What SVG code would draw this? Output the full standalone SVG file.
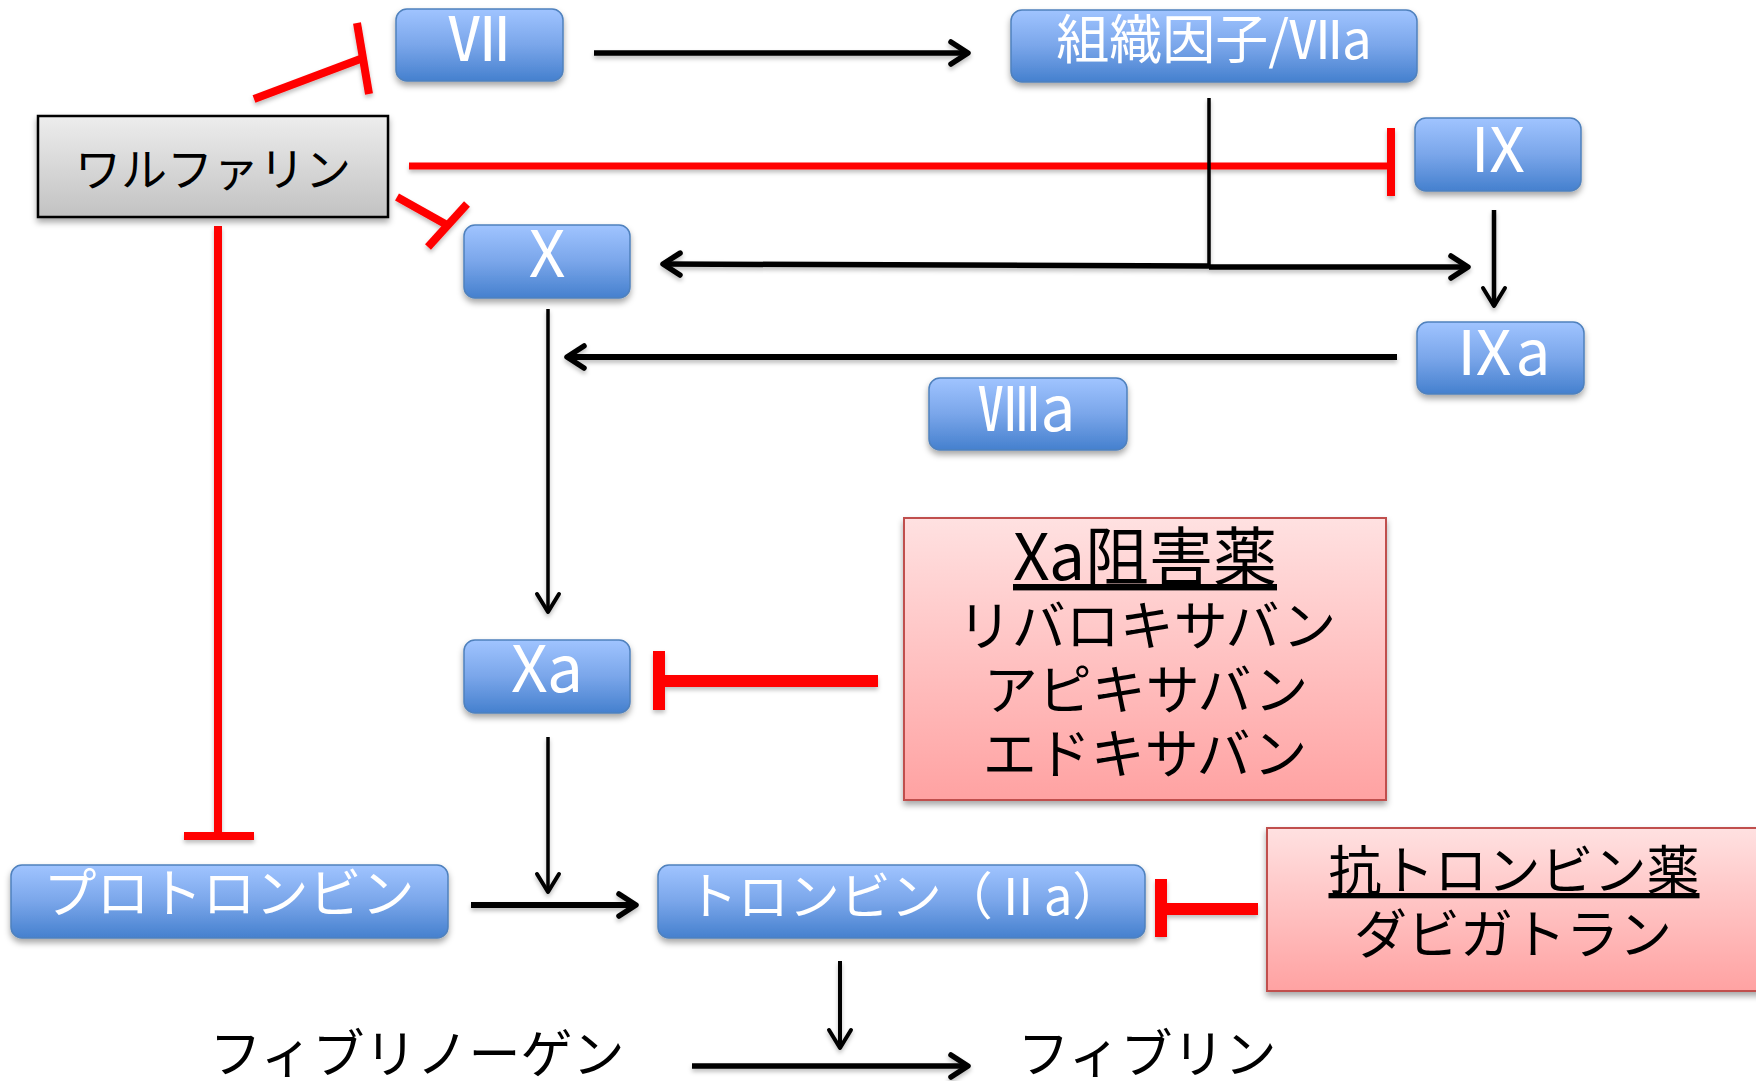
<svg xmlns="http://www.w3.org/2000/svg" width="1756" height="1081" viewBox="0 0 1756 1081">
<defs>
<linearGradient id="gBlue" x1="0" y1="0" x2="0" y2="1">
<stop offset="0" stop-color="#A0C4FF"/>
<stop offset="0.5" stop-color="#7AA6EA"/>
<stop offset="1" stop-color="#4580CE"/>
</linearGradient>
<linearGradient id="gGray" x1="0" y1="0" x2="0" y2="1">
<stop offset="0" stop-color="#EDEDED"/>
<stop offset="1" stop-color="#C2C2C2"/>
</linearGradient>
<linearGradient id="gPink" x1="0" y1="0" x2="0" y2="1">
<stop offset="0" stop-color="#FFE1E1"/>
<stop offset="1" stop-color="#FFA2A2"/>
</linearGradient>
<filter id="shadow" x="-10%" y="-20%" width="120%" height="150%">
<feDropShadow dx="0" dy="4" stdDeviation="3" flood-color="#000" flood-opacity="0.35"/>
</filter>
<filter id="lshadow" x="-5%" y="-5%" width="110%" height="110%">
<feDropShadow dx="0" dy="3" stdDeviation="2" flood-color="#000" flood-opacity="0.25"/>
</filter>
<marker id="arrThick" markerUnits="userSpaceOnUse" refX="0" refY="0" markerWidth="30" markerHeight="30" orient="auto" style="overflow:visible">
<path d="M-17,-11 L0,0 L-17,11" fill="none" stroke="#000" stroke-width="5.5" stroke-linecap="round" stroke-linejoin="round"/>
</marker>
<marker id="arrThin" markerUnits="userSpaceOnUse" refX="0" refY="0" markerWidth="30" markerHeight="30" orient="auto" style="overflow:visible">
<path d="M-18,-11 L0,0 L-18,11" fill="none" stroke="#000" stroke-width="4" stroke-linecap="round" stroke-linejoin="round"/>
</marker>
</defs>
<style>
.blue{fill:url(#gBlue);stroke:#4F81BD;stroke-width:1.5;filter:url(#shadow)}
.gray{fill:url(#gGray);stroke:#000;stroke-width:2.5;filter:url(#shadow)}
.pink{fill:url(#gPink);stroke:#C0504D;stroke-width:2;filter:url(#shadow)}
text{font-family:"Noto Sans CJK JP","Noto Sans",sans-serif}
.wt{fill:#fff;text-anchor:middle}
.bt{fill:#000;text-anchor:middle}
.blk{stroke:#000;fill:none}
.red{stroke:#FF0000;fill:none}
</style>

<g id="connectors" filter="url(#lshadow)">
<line class="red" x1="254" y1="99" x2="363" y2="58" stroke-width="8"/>
<line class="red" x1="357" y1="23" x2="369" y2="94" stroke-width="8"/>
<line class="red" x1="397" y1="197" x2="447" y2="225" stroke-width="8"/>
<line class="red" x1="467" y1="204" x2="428" y2="247" stroke-width="8"/>
<line class="red" x1="409" y1="166" x2="1391" y2="166" stroke-width="7"/>
<line class="red" x1="1391" y1="128" x2="1391" y2="196" stroke-width="8"/>
<line class="red" x1="218" y1="226" x2="218" y2="836" stroke-width="8"/>
<line class="red" x1="184" y1="836" x2="254" y2="836" stroke-width="8"/>
<line class="red" x1="663" y1="681" x2="878" y2="681" stroke-width="12"/>
<line class="red" x1="659" y1="651" x2="659" y2="710" stroke-width="12"/>
<line class="red" x1="1161" y1="909" x2="1258" y2="909" stroke-width="12"/>
<line class="red" x1="1161" y1="879" x2="1161" y2="937" stroke-width="12"/>

<line class="blk" x1="594" y1="53" x2="968" y2="53" stroke-width="5.5" marker-end="url(#arrThick)"/>
<line class="blk" x1="1209" y1="98" x2="1209" y2="267" stroke-width="3.5"/>
<line class="blk" x1="1209" y1="266" x2="663" y2="264" stroke-width="5.5" marker-end="url(#arrThick)"/>
<line class="blk" x1="1209" y1="267" x2="1468" y2="267" stroke-width="5.5" marker-end="url(#arrThick)"/>
<line class="blk" x1="1494" y1="210" x2="1494" y2="306" stroke-width="4.5" marker-end="url(#arrThin)"/>
<line class="blk" x1="1397" y1="357" x2="567" y2="357" stroke-width="6" marker-end="url(#arrThick)"/>
<line class="blk" x1="548" y1="309" x2="548" y2="612" stroke-width="3.5" marker-end="url(#arrThin)"/>
<line class="blk" x1="548" y1="737" x2="548" y2="892" stroke-width="3.5" marker-end="url(#arrThin)"/>
<line class="blk" x1="471" y1="905" x2="636" y2="905" stroke-width="6" marker-end="url(#arrThick)"/>
<line class="blk" x1="840" y1="961" x2="840" y2="1048" stroke-width="4" marker-end="url(#arrThin)"/>
<line class="blk" x1="692" y1="1066" x2="968" y2="1066" stroke-width="5.5" marker-end="url(#arrThick)"/>
</g>

<g id="n-warfarin">
<rect class="gray" x="38" y="116" width="350" height="101"/>
<text class="bt" x="213" y="186" font-size="46">ワルファリン</text>
</g>
<g id="n-VII">
<rect class="blue" x="396" y="9" width="167" height="72" rx="11"/>
<text class="wt" x="479" y="61" font-size="62">Ⅶ</text>
</g>
<g id="n-TFVIIa">
<rect class="blue" x="1011" y="10" width="406" height="72" rx="11"/>
<text class="wt" x="1214" y="59" font-size="53">組織因子/Ⅶa</text>
</g>
<g id="n-IX">
<rect class="blue" x="1415" y="118" width="166" height="73" rx="11"/>
<text class="wt" x="1498" y="172" font-size="62">Ⅸ</text>
</g>
<g id="n-X">
<rect class="blue" x="464" y="225" width="166" height="73" rx="11"/>
<text class="wt" x="547" y="277" font-size="64">X</text>
</g>
<g id="n-IXa">
<rect class="blue" x="1417" y="322" width="167" height="72" rx="11"/>
<text class="wt" x="1502" y="375" font-size="62">Ⅸa</text>
</g>
<g id="n-VIIIa">
<rect class="blue" x="929" y="378" width="198" height="72" rx="11"/>
<text class="wt" x="1027" y="431" font-size="62">Ⅷa</text>
</g>
<g id="n-Xa">
<rect class="blue" x="464" y="640" width="166" height="73" rx="11"/>
<text class="wt" x="547" y="692" font-size="64">Xa</text>
</g>
<g id="n-prothrombin">
<rect class="blue" x="11" y="865" width="437" height="73" rx="11"/>
<text class="wt" x="229" y="913" font-size="53">プロトロンビン</text>
</g>
<g id="n-thrombin">
<rect class="blue" x="658" y="865" width="487" height="73" rx="11"/>
<text class="wt" x="905" y="915" font-size="51">トロンビン（Ⅱa）</text>
</g>
<g id="n-xa-inhibitors">
<rect class="pink" x="904" y="518" width="482" height="282"/>
<text class="bt" x="1145" y="580" font-size="64" text-decoration="underline">Xa阻害薬</text>
<text class="bt" x="1147" y="646" font-size="54">リバロキサバン</text>
<text class="bt" x="1146" y="710" font-size="54">アピキサバン</text>
<text class="bt" x="1145" y="774" font-size="54">エドキサバン</text>
</g>
<g id="n-antithrombin">
<rect class="pink" x="1267" y="828" width="494" height="163"/>
<text class="bt" x="1514" y="890" font-size="53" text-decoration="underline">抗トロンビン薬</text>
<text class="bt" x="1513" y="954" font-size="53">ダビガトラン</text>
</g>
<g id="n-fibrinogen">
<text class="bt" x="417" y="1073" font-size="52">フィブリノーゲン</text>
</g>
<g id="n-fibrin">
<text class="bt" x="1147" y="1073" font-size="52">フィブリン</text>
</g>
</svg>
